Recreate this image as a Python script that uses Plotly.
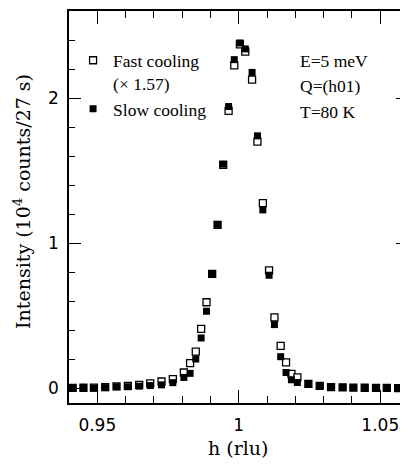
import plotly.graph_objects as go

# h positions (rlu)
h = [0.9413, 0.9451, 0.9488, 0.9528, 0.9568, 0.9608, 0.9648, 0.9687, 0.9727, 0.9767,
     0.9806, 0.9828, 0.9848, 0.9867, 0.9886, 0.9906, 0.9925, 0.9945, 0.9964, 0.9984,
     1.0004, 1.0023, 1.0047, 1.0066, 1.0085, 1.0107, 1.0126, 1.0148, 1.0167, 1.0186,
     1.0207, 1.0246, 1.0286, 1.0326, 1.0367, 1.0405, 1.0445, 1.0485, 1.0523, 1.0563]

# Slow cooling intensity (10^4 counts / 27 s)
slow = [0.003, 0.003, 0.003, 0.006, 0.012, 0.012, 0.016, 0.020, 0.025, 0.040,
        0.076, 0.104, 0.203, 0.348, 0.532, 0.790, 1.130, 1.545, 1.942, 2.265,
        2.380, 2.339, 2.177, 1.740, 1.230, 0.780, 0.440, 0.219, 0.110, 0.060,
        0.041, 0.028, 0.015, 0.010, 0.008, 0.006, 0.005, 0.004, 0.004, 0.003]

# Fast cooling intensity (x 1.57)
fast = [0.004, 0.005, 0.006, 0.010, 0.015, 0.018, 0.025, 0.035, 0.048, 0.065,
        0.110, 0.175, 0.254, 0.410, 0.594, 0.790, 1.127, 1.540, 1.912, 2.225,
        2.370, 2.320, 2.127, 1.700, 1.277, 0.813, 0.490, 0.293, 0.180, 0.100,
        0.076, 0.032, 0.018, 0.010, 0.008, 0.006, 0.005, 0.004, 0.004, 0.003]

x_range = [0.94, 1.0598]
y_range = [-0.1, 2.6]

SERIF = "Liberation Serif"
SANS = "DejaVu Sans"

fig = go.Figure()
fig.add_trace(go.Scatter(
    x=h, y=fast, mode="markers", name="Fast cooling<br>(× 1.57)",
    marker=dict(symbol="square", size=7, color="white",
                line=dict(color="black", width=1.3))))
fig.add_trace(go.Scatter(
    x=h, y=slow, mode="markers", name="Slow cooling",
    marker=dict(symbol="square", size=7, color="black",
                line=dict(color="black", width=0))))

axis_common = dict(
    showline=True, linecolor="black", linewidth=1.5, mirror="ticks",
    ticks="inside", tickcolor="black", tickwidth=1.2,
    showgrid=False, zeroline=False, automargin=False,
    tickfont=dict(family=SANS, size=17, color="black"),
)

fig.update_xaxes(**axis_common, range=x_range, tick0=0.95, dtick=0.05, ticklen=13,
                 ticklabelstandoff=6,
                 minor=dict(tick0=0.94, dtick=0.01, ticks="inside", ticklen=7,
                            tickwidth=1.2, tickcolor="black", showgrid=False))
fig.update_yaxes(**axis_common, range=y_range, tick0=0, dtick=1, ticklen=12,
                 ticklabelstandoff=5,
                 minor=dict(tick0=0, dtick=0.2, ticks="inside", ticklen=6,
                            tickwidth=1.2, tickcolor="black", showgrid=False))

annots = [
    dict(text="h (rlu)", x=0.5, y=0, xref="paper", yref="paper", xanchor="center",
         yanchor="middle", yshift=-45, showarrow=False,
         font=dict(family="DejaVu Serif", size=19, color="black")),
    dict(text="Intensity (10<sup>4</sup> counts/27 s)", x=0, y=0.513, xref="paper",
         yref="paper", xanchor="center", yanchor="middle", xshift=-47, textangle=-90,
         showarrow=False, font=dict(family="DejaVu Serif", size=19, color="black")),
]
for txt, yp in [("E=5 meV", 0.872), ("Q=(h01)", 0.809), ("T=80 K", 0.742)]:
    annots.append(dict(text=txt, x=0.6755, y=yp, xref="paper", yref="paper",
                       xanchor="left", yanchor="middle", showarrow=False,
                       font=dict(family=SERIF, size=17.5, color="black")))

# page body adds an 8px offset, so the figure is 400x464 inside the 408x472 window
fig.update_layout(
    width=400, height=464,
    margin=dict(l=61, r=0, t=3, b=69),
    paper_bgcolor="white", plot_bgcolor="white",
    showlegend=True,
    legend=dict(x=0.012, y=0.92, xanchor="left", yanchor="top", valign="top",
                bgcolor="rgba(0,0,0,0)", borderwidth=0,
                font=dict(family=SERIF, size=17.5, color="black")),
    annotations=annots,
)

fig.write_html("out.html")
